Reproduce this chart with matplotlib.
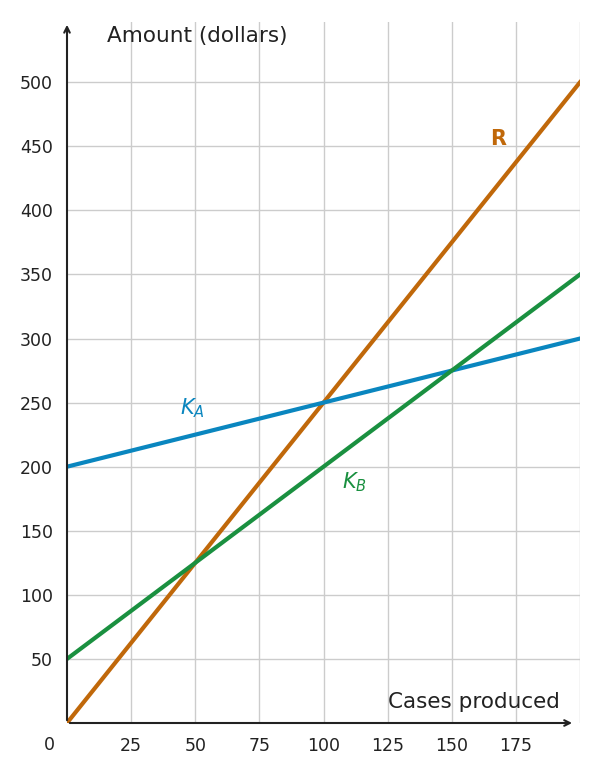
import numpy as np
import matplotlib.pyplot as plt

x = np.array([0, 200])
r_vals = np.array([0, 500])
ka_vals = np.array([200, 300])
kb_vals = np.array([50, 350])
xticks = [25, 50, 75, 100, 125, 150, 175]
yticks = [50, 100, 150, 200, 250, 300, 350, 400, 450, 500]

fig = plt.figure(figsize=(5.98, 7.72), dpi=100)
ax = fig.add_axes([67/598, 1-723/772, 513/598, 701/772])
ax.set_xlim(0, 200)
ax.set_ylim(0, 547)

for t in xticks + [200]:
    ax.axvline(t, color='#cccccc', lw=1, zorder=0)
for t in yticks:
    ax.axhline(t, color='#cccccc', lw=1, zorder=0)

ax.plot(x, r_vals, color='#c0680a', lw=3)
ax.plot(x, ka_vals, color='#0a86bf', lw=3)
ax.plot(x, kb_vals, color='#1a9040', lw=3)

for s in ax.spines.values():
    s.set_visible(False)
ax.annotate('', xy=(0, 1), xytext=(0, 0), xycoords='axes fraction',
            arrowprops=dict(arrowstyle='->', color='#222222', lw=1.5))
ax.annotate('', xy=(0.99, 0), xytext=(0, 0), xycoords='axes fraction',
            arrowprops=dict(arrowstyle='->', color='#222222', lw=1.5))

ax.set_xticks(xticks)
ax.set_yticks(yticks)
ax.tick_params(length=0, labelsize=12.5, colors='#222222', pad=10)
ax.text(-7, -10, '0', ha='center', va='top', fontsize=12.5, color='#222222')

ax.text(15.5, 536, 'Amount (dollars)', fontsize=15.5, color='#222222', va='center')
ax.text(125, 16, 'Cases produced', fontsize=15.5, color='#222222', va='center')
ax.text(168, 456, 'R', fontsize=15, color='#c0680a', fontweight='bold', ha='center', va='center')
ax.text(49, 246, '$K_A$', fontsize=15, color='#0a86bf', ha='center', va='center')
ax.text(112, 188, '$K_B$', fontsize=15, color='#1a9040', ha='center', va='center')

fig.savefig('out.png', dpi=100)
